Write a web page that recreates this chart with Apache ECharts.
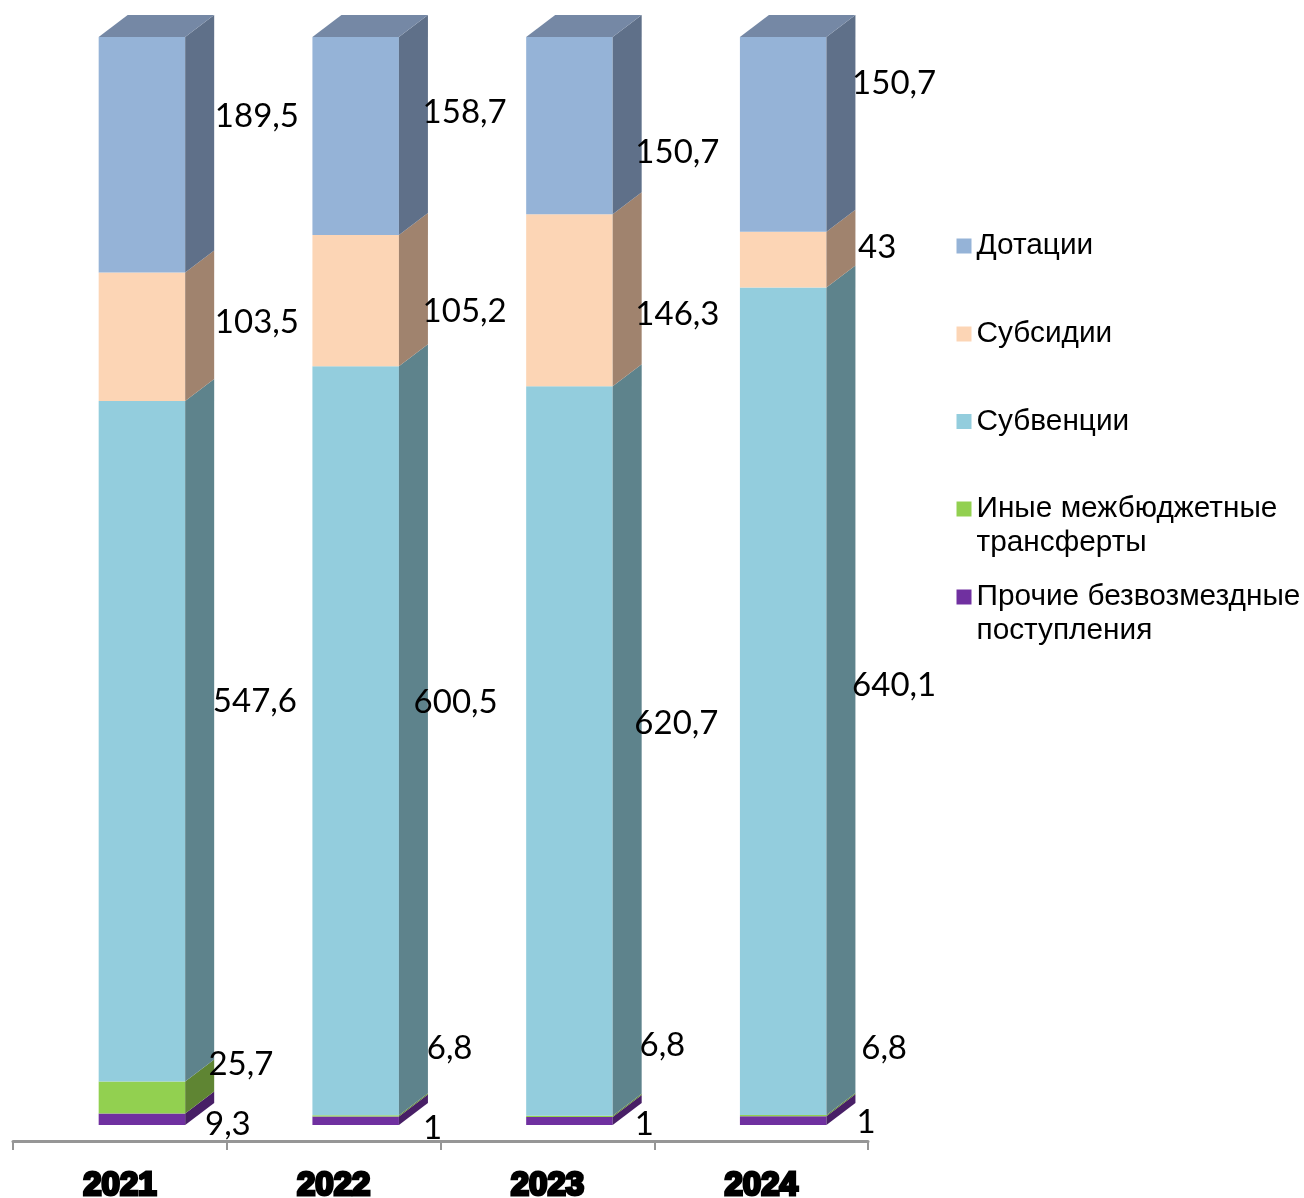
<!DOCTYPE html>
<html><head><meta charset="utf-8">
<style>html,body{margin:0;padding:0;background:#fff}#c{width:1304px;height:1198px}</style>
<script src="https://cdn.jsdelivr.net/npm/echarts@6/dist/echarts.min.js"></script>
</head><body><div id="c"></div>
<script>
const years = ['2021','2022','2023','2024'];
// bottom to top
const prochie  = [9.3, 6.8, 6.8, 6.8];
const inye     = [25.7, 1, 1, 1];
const subvencii= [547.6, 600.5, 620.7, 640.1];
const subsidii = [103.5, 105.2, 146.3, 43];
const dotacii  = [189.5, 158.7, 150.7, 150.7];

const seriesNames = ['Прочие безвозмездные\nпоступления','Иные межбюджетные\nтрансферты','Субвенции','Субсидии','Дотации'];
const seriesValues = [prochie, inye, subvencii, subsidii, dotacii];
const frontColors = ['#7030A0','#92D050','#93CDDD','#FCD5B5','#95B3D7'];
const sideColors  = ['#481F66','#5F8533','#5E838C','#A0836E','#5F7089'];
const topColor = '#7588A5';

// label placement relative to category centre / segment middle (px)
const labelDx = [[108,116,115,123],[121,99,97,105],[135,122,129,133],[137,131,130,116],[137,131,130,133]];
const labelDy = [[4,-73,-77,-73],[-34,11,7,6],[-41,-39,-29,-17],[-15,10,13,-13],[-39,-25,26,-52]];

const frontOffset = -21.2, frontWidth = 86.5, depthX = 29, depthY = 22;

const totals = years.map((_, i) => seriesValues.reduce((s, v) => s + v[i], 0));
const cum = years.map(() => 0);

const series = seriesValues.map((vals, si) => {
  const data = vals.map((v, i) => {
    const start = cum[i] / totals[i] * 100;
    cum[i] += v;
    const end = cum[i] / totals[i] * 100;
    return [i, start, end, v];
  });
  return {
    type: 'custom',
    name: seriesNames[si],
    itemStyle: { color: frontColors[si] },
    encode: { x: 0, y: [1, 2] },
    data,
    renderItem(params, api) {
      const cat = api.value(0), i = params.dataIndex;
      const p0 = api.coord([cat, api.value(1)]);
      const p1 = api.coord([cat, api.value(2)]);
      const l = p0[0] + frontOffset, r = l + frontWidth, yb = p0[1], yt = p1[1];
      const ymid = (yb + yt) / 2;
      const children = [
        { type: 'rect', shape: { x: l, y: yt, width: frontWidth, height: yb - yt }, style: { fill: frontColors[si] } },
        { type: 'polygon', shape: { points: [[r, yb], [r + depthX, yb - depthY], [r + depthX, yt - depthY], [r, yt]] }, style: { fill: sideColors[si] } }
      ];
      if (si === seriesValues.length - 1) {
        children.push({ type: 'polygon', shape: { points: [[l, yt], [l + depthX, yt - depthY], [r + depthX, yt - depthY], [r, yt]] }, style: { fill: topColor } });
      }
      children.push({
        type: 'text', z2: 100,
        style: {
          x: p0[0] + labelDx[si][i], y: ymid + labelDy[si][i] + 1,
          text: String(api.value(3)).replace('.', ','),
          align: 'center', verticalAlign: 'middle',
          font: '33px Lato', fill: '#000'
        }
      });
      return { type: 'group', children };
    }
  };
});

// legend, top to bottom
const legendOrder = [4, 3, 2, 1, 0];
const legendCentres = [246, 334, 421.5, 509, 597];
const legends = legendOrder.map((si, k) => {
  const two = seriesNames[si].includes('\n');
  return {
    data: [seriesNames[si]],
    left: 956.5,
    top: legendCentres[k] - (two ? 51 : 17),
    padding: 0,
    itemWidth: 15, itemHeight: 15,
    icon: 'rect',
    selectedMode: false,
    formatter: n => (two ? '\n' : '') + n,
    textStyle: {
      fontFamily: 'Liberation Sans', fontSize: 29.8, lineHeight: 34, color: '#000'
    }
  };
});

const chart = echarts.init(document.getElementById('c'));
chart.setOption({
  animation: false,
  backgroundColor: '#fff',
  grid: { left: 13, width: 855, top: 37, bottom: 73, outerBoundsMode: 'none' },
  legend: legends,
  xAxis: {
    type: 'category', data: years, offset: 16,
    axisLine: { onZero: false, lineStyle: { color: '#969696', width: 3 } },
    axisTick: { show: true, length: 9, alignWithLabel: false, lineStyle: { color: '#969696', width: 2 } },
    axisLabel: {
      margin: 28, fontFamily: 'Liberation Sans', fontWeight: 'bold', fontSize: 33, color: '#000',
      textBorderColor: '#000', textBorderWidth: 3
    }
  },
  yAxis: { type: 'value', min: 0, max: 100, show: false },
  series
});
</script></body></html>
